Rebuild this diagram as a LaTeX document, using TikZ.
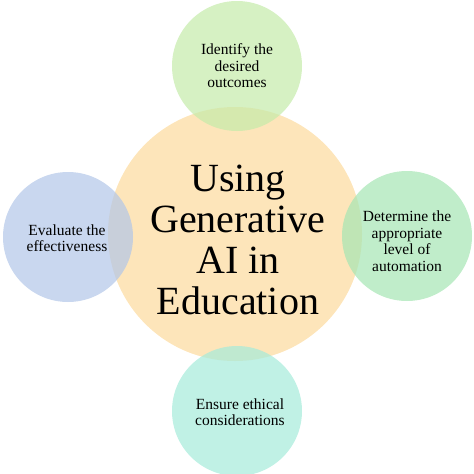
\documentclass[tikz,border=0pt]{standalone}
\usepackage{fontspec}
\setmainfont{Liberation Serif}
\usepackage{tikz}

\definecolor{hubfill}{RGB}{253,229,186}
\definecolor{topfill}{RGB}{197,235,170}
\definecolor{leftfill}{RGB}{178,198,232}
\definecolor{rightfill}{RGB}{165,229,179}
\definecolor{botfill}{RGB}{165,235,218}

\begin{document}
\begin{tikzpicture}[x=1pt,y=-1pt,
  hub/.style={circle, fill=hubfill, minimum size=254pt, inner sep=0pt},
  petal/.style={circle, fill opacity=0.7, text opacity=1, minimum size=130pt, inner sep=0pt},
  bigtext/.style={align=center, font=\fontsize{40}{41}\selectfont},
  smalltext/.style={align=center, font=\fontsize{15.5}{16.5}\selectfont}]
\useasboundingbox (0,0) rectangle (474,474);

\node (H) at (235,234) [hub] {};
\node (T) at (237,66) [petal, fill=topfill] {};
\node (L) at (68,237) [petal, fill=leftfill] {};
\node (R) at (407,236) [petal, fill=rightfill] {};
\node (B) at (237,411) [petal, fill=botfill] {};

\node (Htext) at (238,240) [bigtext] {Using\\Generative\\AI in\\Education};
\node (Ttext) at (237,66) [smalltext] {Identify the\\desired\\outcomes};
\node (Ltext) at (67,238) [smalltext] {Evaluate the\\effectiveness};
\node (Rtext) at (407,241) [smalltext] {Determine the\\appropriate\\level of\\automation};
\node (Btext) at (240,412) [smalltext] {Ensure ethical\\considerations};

\end{tikzpicture}
\end{document}
